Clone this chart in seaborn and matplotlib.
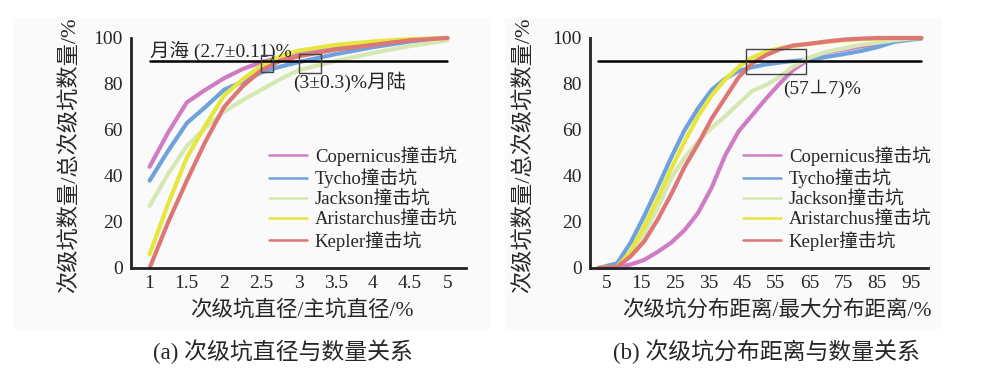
import numpy as np
import pandas as pd
import matplotlib.pyplot as plt
import seaborn as sns
from matplotlib.patches import Rectangle
from matplotlib.ticker import FixedLocator

# crater names and colours
names = ['Copernicus撞击坑', 'Tycho撞击坑', 'Jackson撞击坑', 'Aristarchus撞击坑', 'Kepler撞击坑']
colors = ['#d07cc4', '#6fa2dc', '#d6e8b2', '#e6e63c', '#de7676']

# (a) diameter ratio vs cumulative count
dia_x = [1, 1.25, 1.5, 1.75, 2, 2.25, 2.5, 2.75, 3, 3.5, 4, 4.5, 5]
dia_copernicus = [44, 59, 72, 77.5, 82.5, 86.5, 89.5, 91.5, 93, 95.5, 97.5, 99, 100]
dia_tycho = [38, 51, 63, 70, 77.5, 81, 85, 87.5, 89.5, 93, 96, 98.5, 100]
dia_jackson = [27, 41, 53, 61, 68, 73, 77.5, 82, 86, 90, 93.5, 96.5, 99]
dia_aristarchus = [6, 28, 48, 62, 75, 82, 88, 92, 94.5, 97, 98.5, 99.5, 100]
dia_kepler = [0, 20, 38, 55, 70, 79, 86, 90, 92, 95, 97, 99, 100]
dia_ticks = [1, 1.5, 2, 2.5, 3, 3.5, 4, 4.5, 5]
dia_ticklabels = ['1', '1.5', '2', '2.5', '3', '3.5', '4', '4.5', '5']

# (b) distance ratio vs cumulative count
dist_x = [2.5, 8, 12, 16, 20, 24, 28, 32, 36, 40, 44, 48, 52, 56, 60, 65, 70, 75, 80, 85, 90, 95, 98]
dist_copernicus = [0, 0.3, 1.5, 3.5, 7, 11, 16.5, 24, 35, 49, 59.5, 66.5, 73.5, 80, 86, 91, 93.8, 95, 96.3, 97.5, 98.7, 99.5, 100]
dist_tycho = [0, 2, 11, 22.5, 35, 48, 60, 69.5, 77.5, 82.3, 85.7, 87.3, 88.5, 89.3, 90, 90.5, 91.8, 93, 94.3, 96, 98.3, 99.3, 99.7]
dist_jackson = [0, 0.5, 6, 15, 26, 39, 48, 55, 61, 66, 71.5, 77, 79.5, 83, 87.5, 91.5, 94, 95.5, 97, 98, 99, 99.8, 100]
dist_aristarchus = [0, 0.5, 7, 18, 30, 43, 55, 66, 75, 82, 87.5, 91.5, 94, 95.5, 96.5, 97.5, 98.3, 99, 99.5, 99.8, 100, 100, 100]
dist_kepler = [0, 0.5, 5, 11.5, 21, 32, 44, 54, 65, 74, 83, 89, 92.5, 95, 96.7, 97.5, 98.5, 99.3, 99.7, 100, 100, 100, 100]
dist_ticks = [5, 15, 25, 35, 45, 55, 65, 75, 85, 95]
dist_ticklabels = ['5', '15', '25', '35', '45', '55', '65', '75', '85', '95']


def long_table(x, series):
    rows = []
    for name, ys in zip(names, series):
        for xi, yi in zip(x, ys):
            rows.append({'x': xi, 'y': yi, 'crater': name})
    return pd.DataFrame(rows)


df_dia = long_table(dia_x, [dia_copernicus, dia_tycho, dia_jackson, dia_aristarchus, dia_kepler])
df_dist = long_table(dist_x, [dist_copernicus, dist_tycho, dist_jackson, dist_aristarchus, dist_kepler])

sns.set_style('white')
plt.rcParams['font.family'] = ['Liberation Serif', 'Noto Sans CJK SC', 'DejaVu Sans']
plt.rcParams['axes.unicode_minus'] = False

fig = plt.figure(figsize=(10, 3.72), dpi=100)
H = 372.0
# very faint scanned-paper background behind each panel
for x0, x1 in [(13, 490), (505, 940)]:
    fig.patches.append(Rectangle((x0 / 1000, 1 - 328 / H), (x1 - x0) / 1000, 310 / H,
                                 transform=fig.transFigure, color='#fafafa', zorder=-10))

ax1 = fig.add_axes([0.131, 1 - 268 / H, 0.335, 230 / H])
ax2 = fig.add_axes([0.590, 1 - 268 / H, 0.338, 230 / H])

for ax, df in [(ax1, df_dia), (ax2, df_dist)]:
    ax.set_facecolor('none')
    sns.lineplot(data=df, x='x', y='y', hue='crater', hue_order=names,
                 palette=colors, linewidth=3, ax=ax, clip_on=False)
    ax.set_ylim(0, 100)
    ax.set_yticks([0, 20, 40, 60, 80, 100])
    ax.set_xlabel('')
    ax.set_ylabel('')
    for s in ['top', 'right']:
        ax.spines[s].set_visible(False)
    for s in ['left', 'bottom']:
        ax.spines[s].set_linewidth(2)
        ax.spines[s].set_color('#222222')
    ax.tick_params(axis='y', direction='out', length=3, width=1.2, labelsize=14, pad=3)
    ax.tick_params(axis='x', which='major', direction='in', length=4, width=1.2)
    ax.tick_params(axis='x', which='minor', length=0, labelsize=14, pad=5)
    h, l = ax.get_legend_handles_labels()
    leg = ax.legend(h, l, loc='upper left', frameon=False, fontsize=13.5,
                    handlelength=2.0, handletextpad=0.45, labelspacing=0.15,
                    borderpad=0, borderaxespad=0, bbox_transform=fig.transFigure,
                    bbox_to_anchor=((269 if ax is ax1 else 743) / 1000, 1 - 146 / H))
    for line in leg.get_lines():
        line.set_linewidth(1.8)

# panel (a) axis
ax1.set_xlim(0.75, 5.25)
ax1.xaxis.set_major_locator(FixedLocator(np.arange(1.25, 5.3, 0.5)))
ax1.xaxis.set_major_formatter(plt.NullFormatter())
ax1.set_xticks(dia_ticks, minor=True)
ax1.set_xticklabels(dia_ticklabels, minor=True)

# panel (b) axis
ax2.set_xlim(0, 100)
ax2.xaxis.set_major_locator(FixedLocator(np.arange(10, 101, 10)))
ax2.xaxis.set_major_formatter(plt.NullFormatter())
ax2.set_xticks(dist_ticks, minor=True)
ax2.set_xticklabels(dist_ticklabels, minor=True)

# 90% reference lines and boxes
ax1.plot([1, 5], [90, 90], color='black', lw=1.8, zorder=5)
ax1.add_patch(Rectangle((2.49, 85.2), 0.17, 7.4, fill=False, ec='#444444', lw=1, zorder=6))
ax1.add_patch(Rectangle((3.0, 85.0), 0.3, 8.0, fill=False, ec='#444444', lw=1, zorder=6))
ax1.text(1.0, 94.5, '月海 (2.7±0.11)%', fontsize=14, va='center', ha='left')
ax1.text(2.93, 81, '(3±0.3)%月陆', fontsize=14, va='center', ha='left')

ax2.plot([2.5, 98], [90, 90], color='black', lw=1.8, zorder=5)
ax2.add_patch(Rectangle((46.2, 84.5), 17.8, 10.5, fill=False, ec='#444444', lw=1, zorder=6))
ax2.text(57.1, 78, '(57⊥7)%', fontsize=14, va='center', ha='left')

# axis titles
ylab = '次级坑数量/总次级坑数量/%'
fig.text(70 / 1000, 1 - 155 / H, ylab, rotation=90, fontsize=16, ha='center', va='center')
fig.text(524 / 1000, 1 - 155 / H, ylab, rotation=90, fontsize=16, ha='center', va='center')
fig.text(302 / 1000, 1 - 310 / H, '次级坑直径/主坑直径/%', fontsize=15.5, ha='center', va='center')
fig.text(777 / 1000, 1 - 310 / H, '次级坑分布距离/最大分布距离/%', fontsize=15.5, ha='center', va='center')

# captions
fig.text(283 / 1000, 1 - 352 / H, '(a) 次级坑直径与数量关系', fontsize=16.5, ha='center', va='center')
fig.text(766 / 1000, 1 - 352 / H, '(b) 次级坑分布距离与数量关系', fontsize=16.5, ha='center', va='center')

fig.savefig('out.png', dpi=100, facecolor='white')
